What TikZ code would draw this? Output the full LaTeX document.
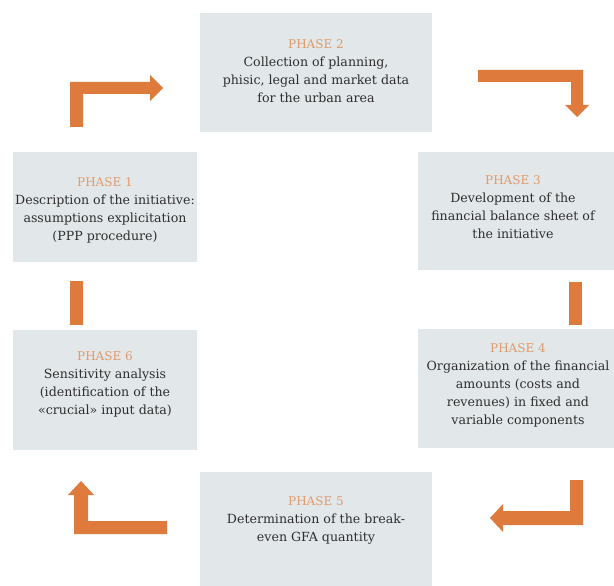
\documentclass[tikz,border=0pt]{standalone}
\usepackage{fontspec}
\setmainfont{DejaVu Serif}
\definecolor{boxfill}{HTML}{E2E7E9}
\definecolor{arrowc}{HTML}{DD7A3C}
\definecolor{phasec}{HTML}{E39A6A}
\definecolor{txtc}{HTML}{2E2E2E}
\newcommand{\phaselbl}[1]{{\fontsize{12}{14}\selectfont\color{phasec}#1}}
\tikzset{
  phasebox/.style={draw=none, fill=boxfill, inner sep=0pt},
  phasetext/.style={align=center, text=txtc, inner sep=0pt, font=\fontsize{12.6}{18}\selectfont},
  blockarrow/.style={fill=arrowc, draw=none}
}
\begin{document}
\begin{tikzpicture}[x=1pt,y=-1pt]
\useasboundingbox (0,0) rectangle (614,586);
\clip (0,0) rectangle (614,586);
\fill[white] (0,0) rectangle (614,586);

% boxes
\node[phasebox, minimum width=232pt, minimum height=119pt] (b2) at (316,72.5) {};
\node[phasebox, minimum width=184pt, minimum height=110pt] (b1) at (105,207) {};
\node[phasebox, minimum width=204pt, minimum height=118pt] (b3) at (520,211) {};
\node[phasebox, minimum width=184pt, minimum height=120pt] (b6) at (105,390) {};
\node[phasebox, minimum width=204pt, minimum height=119pt] (b4) at (520,388.5) {};
\node[phasebox, minimum width=232pt, minimum height=120pt] (b5) at (316,532) {};

% texts
\node[phasetext] (t2) at (316,71) {\phaselbl{PHASE 2}\\Collection of planning,\\phisic, legal and market data\\for the urban area};
\node[phasetext] (t1) at (105,210) {\phaselbl{PHASE 1}\\Description of the initiative:\\assumptions explicitation\\(PPP procedure)};
\node[phasetext] (t3) at (513,207) {\phaselbl{PHASE 3}\\Development of the\\financial balance sheet of\\the initiative};
\node[phasetext] (t6) at (105,384) {\phaselbl{PHASE 6}\\Sensitivity analysis\\(identification of the\\«crucial» input data)};
\node[phasetext] (t4) at (518,385) {\phaselbl{PHASE 4}\\Organization of the financial\\amounts (costs and\\revenues) in fixed and\\variable components};
\node[phasetext] (t5) at (316,520) {\phaselbl{PHASE 5}\\Determination of the break-\\even GFA quantity};

% arrows
\fill[blockarrow] (70,127) -- (70,82) -- (150,82) -- (150,75) -- (163,88) -- (150,101) -- (150,94) -- (83,94) -- (83,127) -- cycle;
\fill[blockarrow] (478,70) -- (583,70) -- (583,105) -- (589,105) -- (577,117) -- (565,105) -- (571,105) -- (571,82) -- (478,82) -- cycle;
\fill[blockarrow] (569,282) rectangle (582,325);
\fill[blockarrow] (70,281) rectangle (83,325);
\fill[blockarrow] (570,480) -- (583,480) -- (583,525) -- (503,525) -- (503,532) -- (490,518) -- (503,504) -- (503,511) -- (570,511) -- cycle;
\fill[blockarrow] (167,534) -- (74,534) -- (74,495) -- (68,495) -- (81,481) -- (94,495) -- (88,495) -- (88,521) -- (167,521) -- cycle;
\end{tikzpicture}
\end{document}
